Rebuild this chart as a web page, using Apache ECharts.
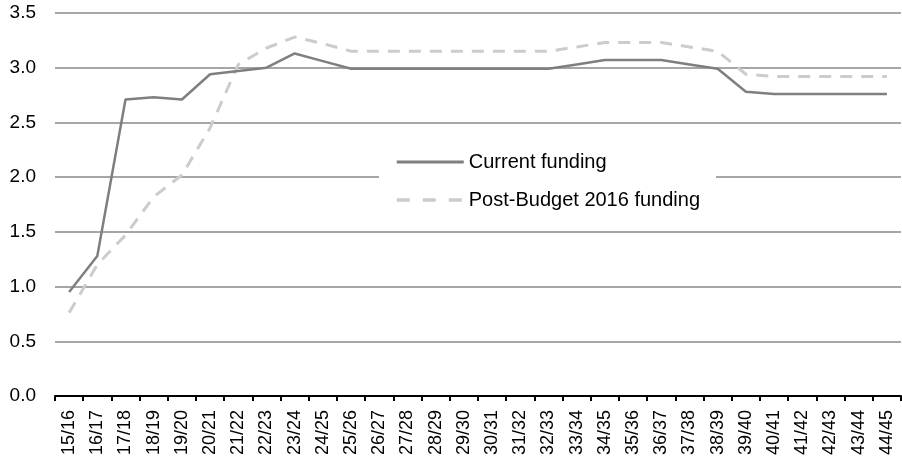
<!DOCTYPE html>
<html>
<head>
<meta charset="utf-8">
<script src="https://cdn.jsdelivr.net/npm/echarts@6/dist/echarts.min.js"></script>
<style>html,body{margin:0;padding:0;background:#fff}#c{width:902px;height:464px}</style>
</head>
<body>
<div id="c"></div>
<script>
const categories = ['15/16','16/17','17/18','18/19','19/20','20/21','21/22','22/23','23/24','24/25','25/26','26/27','27/28','28/29','29/30','30/31','31/32','32/33','33/34','34/35','35/36','36/37','37/38','38/39','39/40','40/41','41/42','42/43','43/44','44/45'];
const currentFunding = [0.95,1.28,2.71,2.73,2.71,2.94,2.97,3.00,3.13,3.06,2.99,2.99,2.99,2.99,2.99,2.99,2.99,2.99,3.03,3.07,3.07,3.07,3.03,2.99,2.78,2.76,2.76,2.76,2.76,2.76];
const postBudgetFunding = [0.76,1.20,1.47,1.82,2.02,2.45,3.03,3.18,3.28,3.22,3.15,3.15,3.15,3.15,3.15,3.15,3.15,3.15,3.19,3.23,3.23,3.23,3.19,3.15,2.94,2.92,2.92,2.92,2.92,2.92];
const yTicks = [0, 0.5, 1.0, 1.5, 2.0, 2.5, 3.0, 3.5];

const chart = echarts.init(document.getElementById('c'), null, {renderer: 'canvas'});
const font = '"Liberation Sans", Arial, sans-serif';
chart.setOption({
  animation: false,
  backgroundColor: '#fff',
  grid: {left: 55, right: 1, top: 13, bottom: 68, containLabel: false},
  legend: {
    orient: 'vertical',
    left: 379,
    top: 138,
    padding: [14, 16, 12, 16],
    backgroundColor: '#fff',
    itemWidth: 67,
    itemHeight: 14,
    itemGap: 18,
    itemStyle: {opacity: 0},
    textStyle: {fontFamily: font, fontSize: 20, color: '#000'},
    data: [
      {name: 'Current funding', lineStyle: {color: '#7f7f7f', width: 3, type: 'solid'}},
      {name: 'Post-Budget 2016 funding', lineStyle: {color: '#cccccc', width: 3.5, type: [13, 13]}}
    ]
  },
  xAxis: {
    type: 'category',
    data: categories,
    boundaryGap: true,
    axisLine: {show: true, lineStyle: {color: '#000', width: 2}},
    axisTick: {show: true, length: 5, lineStyle: {color: '#000', width: 2}},
    axisLabel: {rotate: 90, interval: 0, fontFamily: font, fontSize: 18, color: '#000', margin: 14},
    splitLine: {show: false}
  },
  yAxis: {
    type: 'value',
    min: yTicks[0],
    max: yTicks[yTicks.length - 1],
    interval: 0.5,
    axisLine: {show: false},
    axisTick: {show: false},
    axisLabel: {fontFamily: font, fontSize: 19, color: '#000', margin: 19, formatter: v => v.toFixed(1)},
    splitLine: {lineStyle: {color: '#888', width: 1.5}}
  },
  series: [
    {
      name: 'Current funding',
      type: 'line',
      data: currentFunding,
      symbol: 'none',
      z: 3,
      lineStyle: {color: '#7f7f7f', width: 2.5},
      itemStyle: {color: '#7f7f7f'}
    },
    {
      name: 'Post-Budget 2016 funding',
      type: 'line',
      data: postBudgetFunding,
      symbol: 'none',
      z: 2,
      lineStyle: {color: '#cccccc', width: 3, type: [12, 9]},
      itemStyle: {color: '#cccccc'}
    }
  ]
});
</script>
</body>
</html>
